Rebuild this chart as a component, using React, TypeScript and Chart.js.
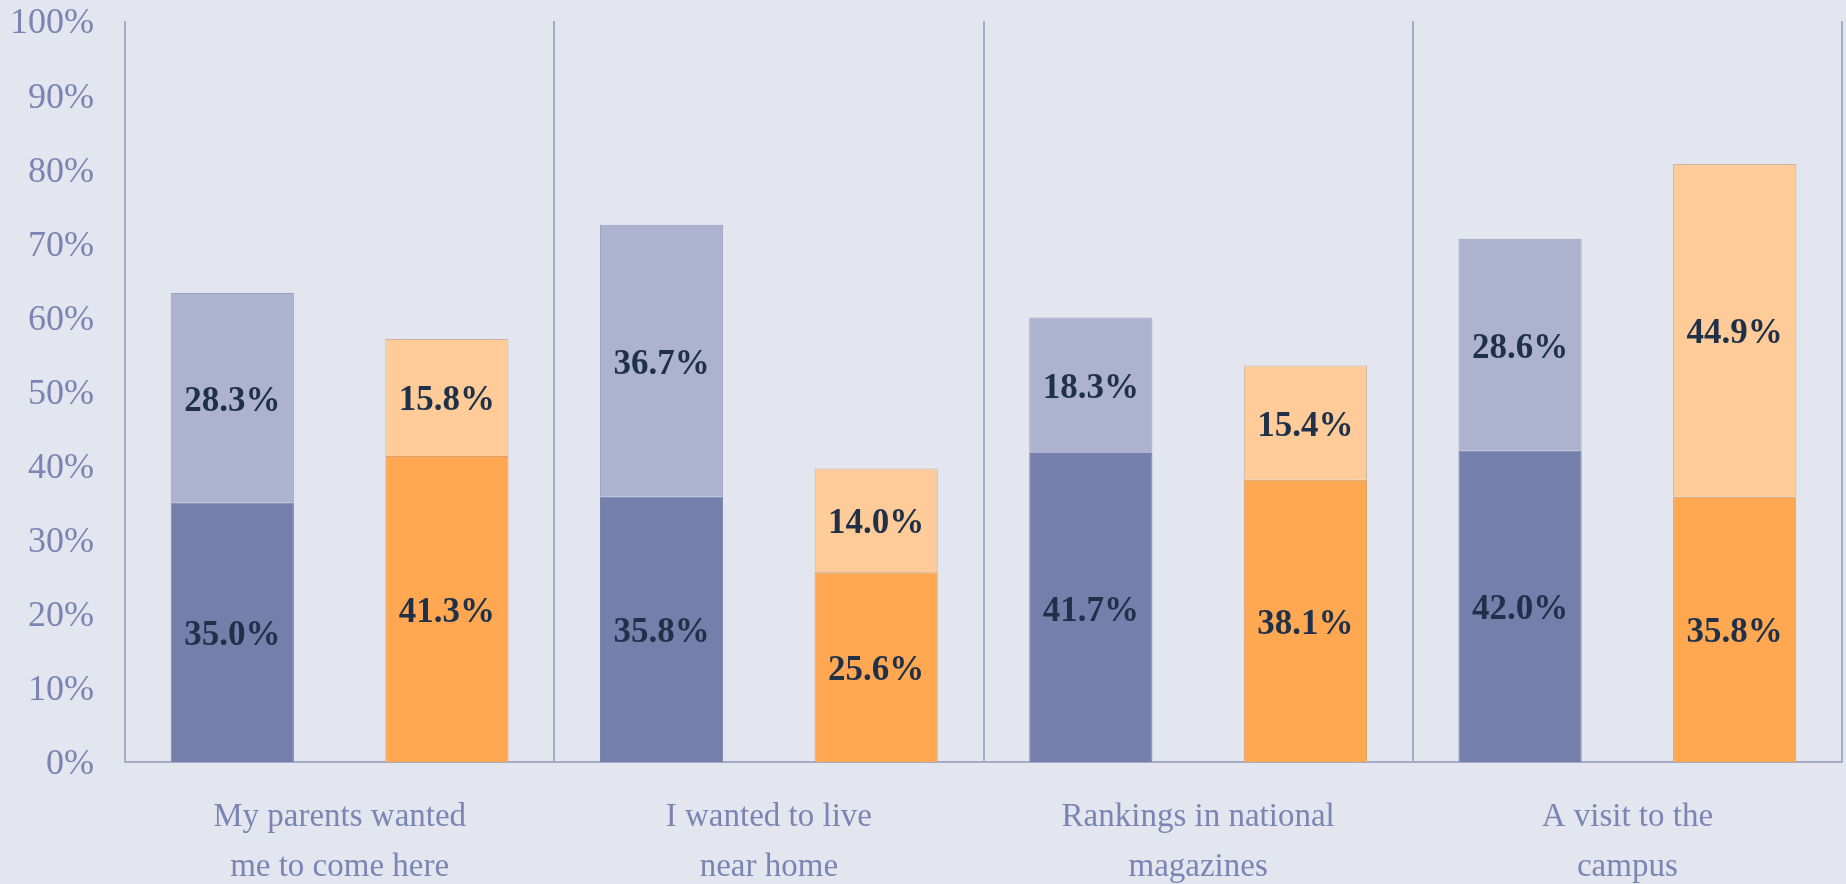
import React, { useEffect, useRef } from "react";
import { Chart, registerables } from "chart.js";
Chart.register(...registerables);

const categories: string[][] = [
  ["My parents wanted", "me to come here"],
  ["I wanted to live", "near home"],
  ["Rankings in national", "magazines"],
  ["A visit to the", "campus"],
];
const blueBase = [35.0, 35.8, 41.7, 42.0];
const blueTop = [28.3, 36.7, 18.3, 28.6];
const orangeBase = [41.3, 25.6, 38.1, 35.8];
const orangeTop = [15.8, 14.0, 15.4, 44.9];
const yMin = 0;
const yMax = 100;
const yStep = 10;

const FONT = '"Liberation Serif", "Times New Roman", serif';

const labelPlugin = {
  id: "segLabels",
  afterDatasetsDraw(chart: any) {
    const ctx = chart.ctx;
    ctx.save();
    ctx.font = `bold 35px ${FONT}`;
    ctx.fillStyle = "#1f3049";
    ctx.textAlign = "center";
    ctx.textBaseline = "middle";
    chart.data.datasets.forEach((ds: any, i: number) => {
      const meta = chart.getDatasetMeta(i);
      meta.data.forEach((el: any, j: number) => {
        const p = el.getProps(["x", "y", "base"], true);
        ctx.fillText(Number(ds.data[j]).toFixed(1) + "%", p.x, (p.y + p.base) / 2 + 4);
      });
    });
    ctx.restore();
  },
};

export default function App() {
  const ref = useRef<HTMLCanvasElement>(null);
  useEffect(() => {
    if (!ref.current) return;
    const chart = new Chart(ref.current, {
      type: "bar",
      data: {
        labels: categories,
        datasets: [
          { label: "b1", data: blueBase, stack: "a", backgroundColor: "#7480ab", borderColor: "#7480ab", borderWidth: 1 },
          { label: "b2", data: blueTop, stack: "a", backgroundColor: "#adb3cf", borderColor: "#9aa1c0", borderWidth: 1 },
          { label: "o1", data: orangeBase, stack: "b", backgroundColor: "#ffa851", borderColor: "#d9a070", borderWidth: 1 },
          { label: "o2", data: orangeTop, stack: "b", backgroundColor: "#ffcb98", borderColor: "#c8b4a8", borderWidth: 1 },
        ],
      },
      options: {
        responsive: false,
        animation: false,
        categoryPercentage: 1.0,
        barPercentage: 0.574,
        layout: { padding: { left: 0, top: 21, right: 4, bottom: 0 } },
        plugins: { legend: { display: false }, tooltip: { enabled: false } },
        scales: {
          x: {
            stacked: true,
            grid: { display: true, offset: true, color: "#a5aac5", lineWidth: 2, drawTicks: false },
            border: { display: true, color: "#a5aac5", width: 2 },
            ticks: {
              color: "#7b85b4",
              font: { family: FONT, size: 33, lineHeight: 1.5 },
              padding: 31,
              maxRotation: 0,
              autoSkip: false,
            },
            afterFit: (s: any) => {
              s.height = 122;
              s.paddingLeft = 0;
              s.paddingRight = 0;
            },
          },
          y: {
            stacked: true,
            min: yMin,
            max: yMax,
            grid: { display: false, drawTicks: false },
            border: { display: false },
            ticks: {
              stepSize: yStep,
              color: "#7b85b4",
              font: { family: FONT, size: 36 },
              padding: 31,
              labelOffset: 3,
              callback: (v: any) => v + "%",
            },
            afterFit: (s: any) => {
              s.width = 125;
              s.paddingTop = 0;
              s.paddingBottom = 0;
            },
          },
        },
      },
      plugins: [labelPlugin],
    });
    return () => chart.destroy();
  }, []);
  return (
    <div style={{ position: "fixed", left: 0, top: 0, width: 1846, height: 884, background: "#e3e6ee" }}>
      <canvas ref={ref} width={1846} height={884} style={{ display: "block" }} />
    </div>
  );
}
